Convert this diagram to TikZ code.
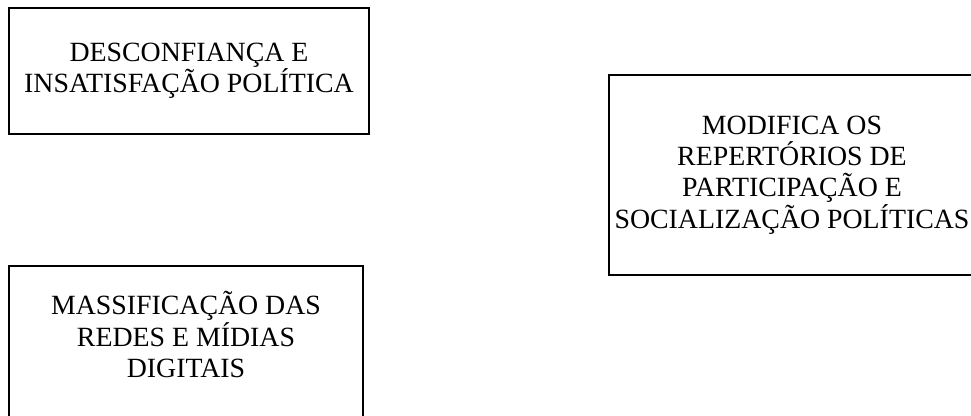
\documentclass[tikz,border=0pt]{standalone}
\usepackage{fontspec}
\setmainfont{Liberation Serif}
\usepackage{tikz}
\usetikzlibrary{positioning}

\begin{document}
\begin{tikzpicture}[
    x=0.467pt, y=-0.467pt,
    factor/.style={rectangle, draw, line width=1.1pt, align=center, inner sep=0pt, font=\fontsize{13}{14.6}\selectfont}
]
% Page frame
\useasboundingbox (0,0) rectangle (971,416);

% Factors
\node[factor, minimum width=168.1pt, minimum height=58.8pt] (desconfianca) at (189,71) {DESCONFIANÇA E\\INSATISFAÇÃO POLÍTICA};
\node[factor, minimum width=165.3pt, minimum height=71.9pt, text depth=8pt] (massificacao) at (186,343) {MASSIFICAÇÃO DAS\\REDES E MÍDIAS\\DIGITAIS};

% Outcome
\node[factor, minimum width=171pt, minimum height=93.4pt] (repertorios) at (792,175) {MODIFICA OS\\REPERTÓRIOS DE\\PARTICIPAÇÃO E\\SOCIALIZAÇÃO POLÍTICAS};
\end{tikzpicture}
\end{document}
